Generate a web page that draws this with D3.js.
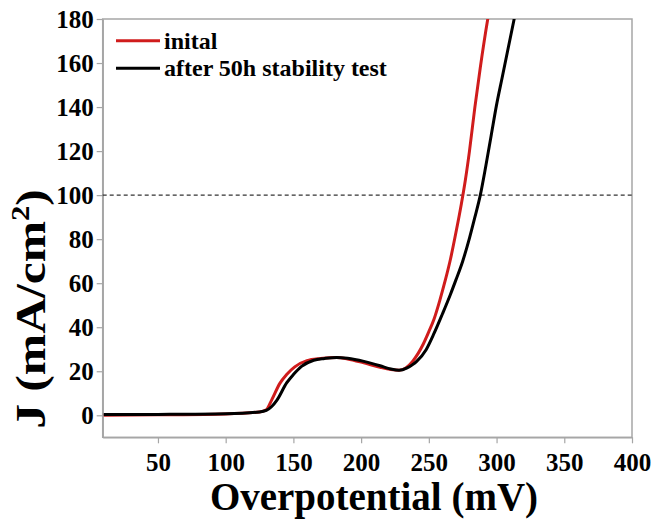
<!DOCTYPE html>
<html>
<head>
<meta charset="utf-8">
<script src="https://cdn.jsdelivr.net/npm/d3@7/dist/d3.min.js"></script>
<style>
  body { margin: 0; background: #fff; }
  text { font-family: "Liberation Serif", "Times New Roman", serif; font-weight: bold; }
</style>
</head>
<body>
<svg id="chart"></svg>
<script>
var width = 655;
var height = 522;

// overpotential (mV), J (mA/cm2)
var initialX = [10, 50, 100, 125, 130, 134, 140, 145, 151, 160, 170, 182, 190, 202, 214, 222, 228, 233, 238, 242, 246, 250, 254, 258, 262, 266, 270, 274, 277, 280, 284, 288, 293.5, 297];
var initialY = [0.0, 0.2, 0.6, 1.5, 2.5, 7, 14.5, 18.5, 22, 24.8, 25.8, 26.3, 25.6, 23.8, 21.8, 20.8, 20.5, 21.5, 24.5, 28, 32.5, 38, 44, 52, 61, 71, 83, 96, 107, 120, 140, 158, 180, 192];
var afterX = [10, 50, 100, 125, 130, 134, 138, 145, 150, 156, 165, 173, 182, 190, 202, 214, 222, 228, 234, 238, 241, 248, 254, 260, 266, 270, 275, 280, 284, 288, 292, 296, 300, 304, 308, 313, 317];
var afterY = [0.3, 0.4, 0.7, 1.5, 2.2, 4, 7, 14.7, 18.5, 22.2, 25, 25.8, 26.3, 25.9, 24.5, 22.5, 21, 20.4, 21.5, 23, 24.5, 29.8, 37.4, 46, 55, 61.5, 70, 80.5, 90, 100, 113, 127, 141, 153, 165, 180, 192];

var xTicks = [50, 100, 150, 200, 250, 300, 350, 400];
var yTicks = [0, 20, 40, 60, 80, 100, 120, 140, 160, 180];
var seriesNames = ["inital", "after 50h stability test"];
var seriesColors = ["#d01c1c", "#000000"];
var refLine = 100;

var plotLeft = 102.7, plotRight = 632, plotTop = 19, plotBottom = 437.3;

var svg = d3.select("#chart").attr("width", width).attr("height", height);

var x = d3.scaleLinear().domain([9.2, 400]).range([plotLeft, plotRight]);
var y = d3.scaleLinear().domain([-10, 180]).range([plotBottom, plotTop]);

svg.append("defs").append("clipPath").attr("id", "plotclip")
  .append("rect").attr("x", plotLeft).attr("y", plotTop)
  .attr("width", plotRight - plotLeft).attr("height", plotBottom - plotTop);

var axisColor = "#a6a6a6";

// frame
svg.append("rect")
  .attr("x", plotLeft).attr("y", plotTop)
  .attr("width", plotRight - plotLeft).attr("height", plotBottom - plotTop)
  .attr("fill", "none").attr("stroke", axisColor).attr("stroke-width", 1.5);

var xAxis = svg.append("g")
  .attr("transform", "translate(0," + plotBottom + ")")
  .call(d3.axisBottom(x).tickValues(xTicks).tickSize(6).tickPadding(10).tickSizeOuter(0));
var yAxis = svg.append("g")
  .attr("transform", "translate(" + plotLeft + ",0)")
  .call(d3.axisLeft(y).tickValues(yTicks).tickSize(6).tickPadding(3).tickSizeOuter(0));

[xAxis, yAxis].forEach(function(a) {
  a.select(".domain").attr("stroke", axisColor).attr("stroke-width", 1.5);
  a.selectAll(".tick line").attr("stroke", axisColor).attr("stroke-width", 1.2);
  a.selectAll(".tick text")
    .attr("fill", "#000")
    .style("font-family", "'Liberation Serif', 'Times New Roman', serif")
    .style("font-weight", "bold")
    .style("font-size", "25px");
});
yAxis.selectAll(".tick text").attr("dy", "0.34em");

// reference line at 100 mA/cm2
svg.append("line")
  .attr("x1", plotLeft).attr("x2", plotRight)
  .attr("y1", y(refLine)).attr("y2", y(refLine))
  .attr("stroke", "#333").attr("stroke-width", 1.2)
  .attr("stroke-dasharray", "4,3");

var line = d3.line()
  .x(function(d) { return x(d[0]); })
  .y(function(d) { return y(d[1]); })
  .curve(d3.curveMonotoneX);

var plot = svg.append("g").attr("clip-path", "url(#plotclip)");
plot.append("path")
  .datum(d3.zip(initialX, initialY))
  .attr("d", line)
  .attr("fill", "none").attr("stroke", seriesColors[0]).attr("stroke-width", 3);
plot.append("path")
  .datum(d3.zip(afterX, afterY))
  .attr("d", line)
  .attr("fill", "none").attr("stroke", seriesColors[1]).attr("stroke-width", 3);

// legend
var legend = svg.append("g");
seriesNames.forEach(function(name, i) {
  var ly = 40.7 + i * 27.6;
  legend.append("line")
    .attr("x1", 116).attr("x2", 160)
    .attr("y1", ly).attr("y2", ly)
    .attr("stroke", seriesColors[i]).attr("stroke-width", 3);
  legend.append("text")
    .attr("x", 164).attr("y", ly + 8)
    .style("font-size", "24px")
    .text(name);
});

// axis titles
svg.append("text")
  .attr("x", 374).attr("y", 510)
  .attr("text-anchor", "middle")
  .style("font-size", "39px")
  .text("Overpotential (mV)");

var yt = svg.append("text")
  .attr("transform", "translate(45,309) rotate(-90) scale(1.18,1)")
  .attr("text-anchor", "middle")
  .style("font-size", "42px");
yt.append("tspan").text("J (mA/cm");
yt.append("tspan").attr("dy", -16).style("font-size", "26px").text("2");
yt.append("tspan").attr("dy", 16).text(")");
</script>
</body>
</html>
